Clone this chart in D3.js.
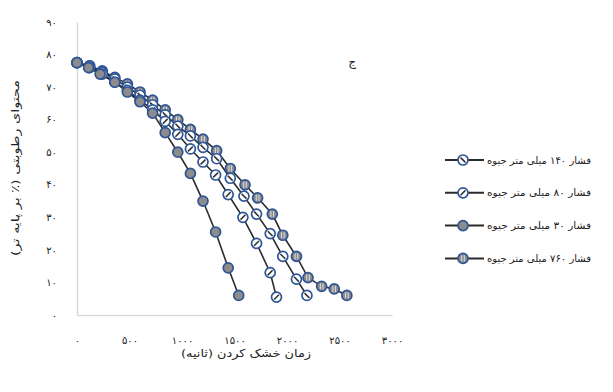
<!DOCTYPE html>
<html>
<head>
<meta charset="utf-8">
<script src="https://cdn.jsdelivr.net/npm/d3@7"></script>
<style>
  body { margin: 0; background: #fff; }
  text { font-family: "DejaVu Sans", sans-serif; fill: #222; }
</style>
</head>
<body>
<div id="chart"></div>
<script>
// drying time (s) and moisture content (% wet basis) per pressure
const t30 = [0, 110, 220, 360, 480, 600, 720, 840, 960, 1080, 1200, 1320, 1440, 1540];
const m30 = [77.5, 76, 74, 71.5, 68.5, 65.5, 62, 56, 50, 43.5, 35, 25.5, 14.5, 6];

const t80 = [0, 120, 240, 360, 480, 600, 720, 840, 960, 1080, 1200, 1320, 1440, 1580, 1710, 1840, 1900];
const m80 = [77.5, 76, 74, 71.5, 69, 66, 63, 59.5, 55.5, 51, 47, 43, 37, 30, 22, 13, 5.5];

const t140 = [0, 120, 240, 360, 480, 600, 720, 840, 960, 1080, 1200, 1330, 1460, 1590, 1710, 1840, 1960, 2090, 2190];
const m140 = [77.5, 76.5, 74.5, 72.5, 70, 67.5, 64.5, 61.5, 58, 55, 51.5, 48, 42, 36.5, 31, 25, 18, 11, 6];

const t760 = [0, 120, 240, 360, 480, 600, 720, 840, 960, 1080, 1200, 1330, 1460, 1600, 1720, 1860, 1960, 2090, 2200, 2330, 2450, 2570];
const m760 = [77.5, 76.5, 75, 73, 71, 68.5, 66, 63, 60, 57, 54, 50.5, 45, 40, 36, 31, 24.5, 18, 11.5, 8.8, 8, 6];

const seriesNames = ["فشار ۱۴۰ میلی متر جیوه", "فشار ۸۰ میلی متر جیوه", "فشار ۳۰ میلی متر جیوه", "فشار ۷۶۰ میلی متر جیوه"];
const xTicks = [0, 500, 1000, 1500, 2000, 2500, 3000];
const yTicks = [0, 10, 20, 30, 40, 50, 60, 70, 80, 90];

const width = 613, height = 392;
const fa = s => String(s).replace(/\d/g, d => "۰۱۲۳۴۵۶۷۸۹"[d]);

const series = [
    { name: seriesNames[0], key: "s140", pts: t140.map((t, i) => [t, m140[i]]) },
    { name: seriesNames[1], key: "s80", pts: t80.map((t, i) => [t, m80[i]]) },
    { name: seriesNames[2], key: "s30", pts: t30.map((t, i) => [t, m30[i]]) },
    { name: seriesNames[3], key: "s760", pts: t760.map((t, i) => [t, m760[i]]) }
];

const svg = d3.select("#chart").append("svg")
    .attr("width", width)
    .attr("height", height);

const x = d3.scaleLinear().domain([0, 3000]).range([77, 392]);
const y = d3.scaleLinear().domain([0, 90]).range([315, 22]);

// axes
const xAxis = svg.append("g")
    .attr("transform", `translate(0, ${y(0)})`)
    .call(d3.axisBottom(x).tickValues(xTicks).tickSize(0).tickPadding(22).tickFormat(fa));
xAxis.select(".domain").attr("stroke", "#d9d9d9").attr("stroke-width", 1.5);
xAxis.selectAll("text").attr("font-size", "10px").attr("fill", "#222");

const yAxis = svg.append("g")
    .attr("transform", `translate(${x(0)}, 0)`)
    .call(d3.axisLeft(y).tickValues(yTicks).tickSize(0).tickPadding(20).tickFormat(fa));
yAxis.select(".domain").attr("stroke", "#d9d9d9").attr("stroke-width", 1.5);
yAxis.selectAll("text").attr("font-size", "10px").attr("fill", "#222");

// axis titles
svg.append("text")
    .attr("x", 246).attr("y", 357)
    .attr("text-anchor", "middle")
    .attr("font-size", "11px")
    .attr("textLength", 130)
    .attr("lengthAdjust", "spacingAndGlyphs")
    .text("زمان خشک کردن (ثانیه)");

svg.append("text")
    .attr("transform", "translate(19, 168) rotate(-90)")
    .attr("text-anchor", "middle")
    .attr("font-size", "11px")
    .attr("textLength", 176)
    .attr("lengthAdjust", "spacingAndGlyphs")
    .text("محتوای رطوبتی (٪ بر پایه تر)");

svg.append("text")
    .attr("x", 352).attr("y", 66)
    .attr("text-anchor", "middle")
    .attr("font-size", "12px")
    .text("ج");

// marker drawing
const drawMarker = (g, key) => {
    const fill = (key === "s30" || key === "s760") ? "#8c8c8c" : "#ffffff";
    g.append("circle")
        .attr("r", 5)
        .attr("fill", fill)
        .attr("stroke", "#2f5597")
        .attr("stroke-width", 1.7);
    if (key === "s140") {
        g.append("line").attr("x1", -2.4).attr("y1", -2.4).attr("x2", 2.4).attr("y2", 2.4)
            .attr("stroke", "#333").attr("stroke-width", 1.6);
    } else if (key === "s80") {
        g.append("line").attr("x1", -2.4).attr("y1", 2.4).attr("x2", 2.4).attr("y2", -2.4)
            .attr("stroke", "#333").attr("stroke-width", 1.6);
    } else if (key === "s760") {
        [-1.3, 1.3].forEach(dx => {
            g.append("line").attr("x1", dx).attr("y1", -3).attr("x2", dx).attr("y2", 3)
                .attr("stroke", "#e8e8e8").attr("stroke-width", 0.9);
        });
    }
};

const line = d3.line().x(d => x(d[0])).y(d => y(d[1]));

// draw in back-to-front order
const drawOrder = ["s760", "s140", "s80", "s30"];
drawOrder.forEach(k => {
    const s = series.find(d => d.key === k);
    svg.append("path")
        .datum(s.pts)
        .attr("fill", "none")
        .attr("stroke", "#2b2b2b")
        .attr("stroke-width", 1.6)
        .attr("d", line);
});
drawOrder.forEach(k => {
    const s = series.find(d => d.key === k);
    svg.append("g").selectAll("g")
        .data(s.pts)
        .join("g")
        .attr("transform", d => `translate(${x(d[0])}, ${y(d[1])})`)
        .each(function () { drawMarker(d3.select(this), k); });
});

// legend
const legend = svg.append("g");
const items = legend.selectAll("g")
    .data(series)
    .join("g")
    .attr("transform", (d, i) => `translate(0, ${160 + i * 32.8})`);

items.append("line")
    .attr("x1", 445).attr("x2", 484)
    .attr("y1", 0).attr("y2", 0)
    .attr("stroke", "#2b2b2b")
    .attr("stroke-width", 2);

items.append("g")
    .attr("transform", "translate(463, 0)")
    .each(function (d) { drawMarker(d3.select(this), d.key); });

items.append("text")
    .attr("x", 487)
    .attr("y", 0)
    .attr("dy", "0.35em")
    .attr("font-size", "10px")
    .attr("textLength", 104)
    .attr("lengthAdjust", "spacingAndGlyphs")
    .text(d => d.name);
</script>
</body>
</html>
